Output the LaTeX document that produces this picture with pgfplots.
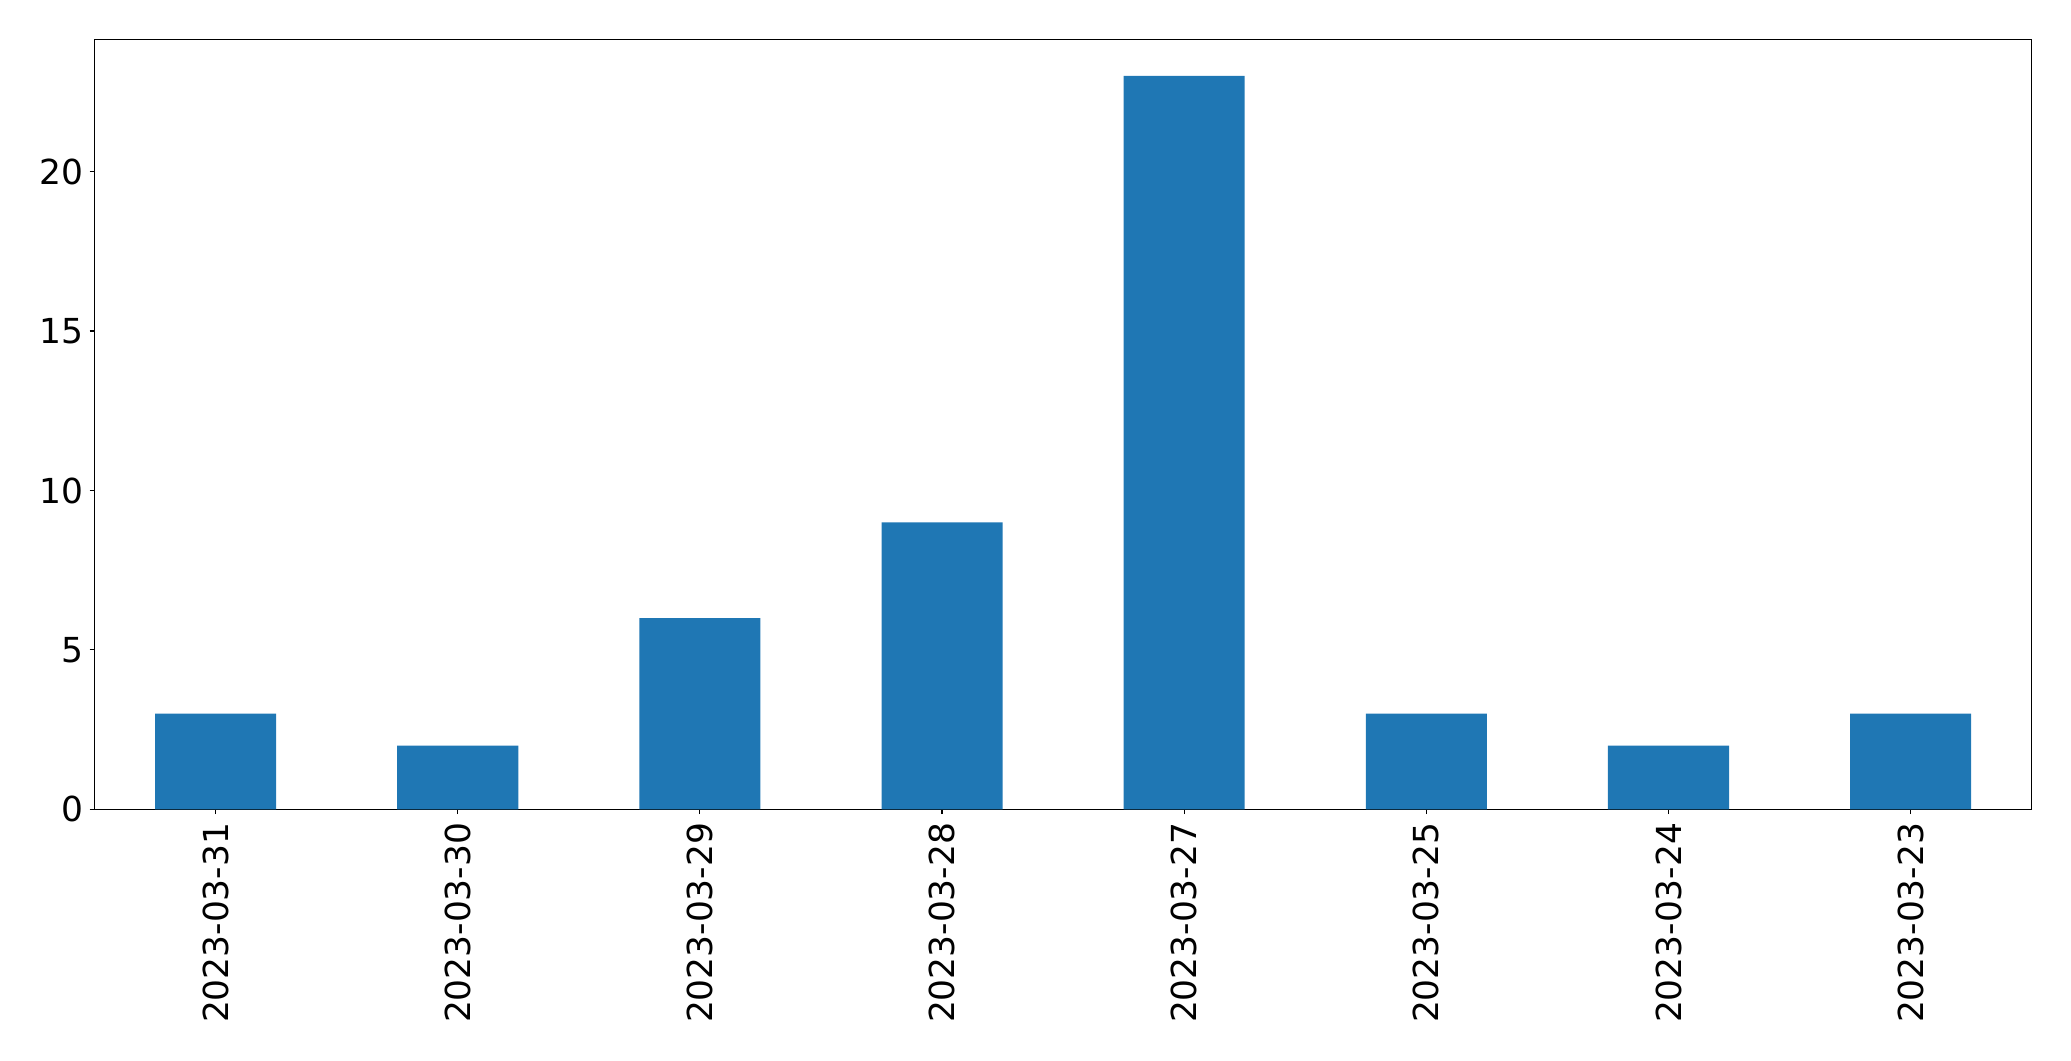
\documentclass[border=0pt]{standalone}
\usepackage{fontspec}
\setmainfont{DejaVu Sans}
\usepackage{pgfplots}
\pgfplotsset{compat=1.18}
\definecolor{mplblue}{HTML}{1F77B4}
\begin{document}
\begin{tikzpicture}[x=1pt,y=1pt]
\begin{axis}[
  name=ax,
  scale only axis,
  width=1394.8pt, height=554.4pt,
  xmin=-0.5, xmax=7.5, ymin=0, ymax=24.15,
  xtick={0,1,2,3,4,5,6,7},
  xticklabels={2023-03-31,2023-03-30,2023-03-29,2023-03-28,2023-03-27,2023-03-25,2023-03-24,2023-03-23},
  ytick={0,5,10,15,20},
  xtick pos=left, ytick pos=left,
  tick align=outside,
  major tick length=3.5pt,
  every tick/.style={black, line width=0.8pt},
  axis line style={line width=0.8pt},
  /pgf/number format/assume math mode=true,
  tick label style={font=\fontsize{24.8}{30}\selectfont},
  xticklabel style={rotate=90, anchor=east, inner sep=0pt},
  yticklabel style={inner sep=0pt, xshift=-4pt},
  xticklabel shift=6pt,
  bar width=0.5,
]
\addplot[ybar, fill=mplblue, draw=none] coordinates {
(0,3) (1,2) (2,6) (3,9) (4,23) (5,3) (6,2) (7,3)};
\end{axis}
\path[use as bounding box] (ax.south west) ++(-68.04pt,-181.2pt) rectangle ++(1491.1pt,763.9pt);
\end{tikzpicture}
\end{document}
